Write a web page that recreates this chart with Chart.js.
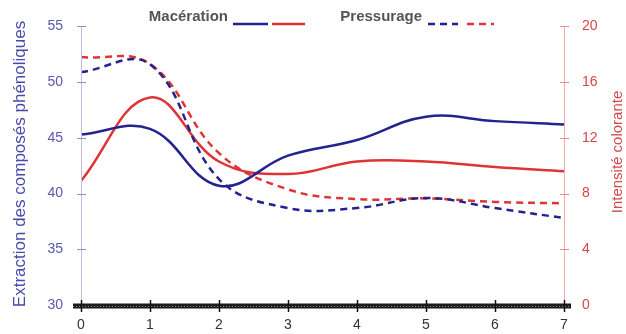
<!DOCTYPE html>
<html>
<head>
<meta charset="utf-8">
<script src="https://cdn.jsdelivr.net/npm/chart.js@4.4.1/dist/chart.umd.min.js"></script>
<style>
  html, body { margin: 0; padding: 0; background: #fff; }
  #wrap { width: 626px; height: 334px; }
</style>
</head>
<body>
<div id="wrap"><canvas id="chart" width="626" height="334"></canvas></div>
<script>
// --- DATA ---
const days = [0, 1, 2, 3, 4, 5, 6, 7];
const macExtraction = [45.3, 45.8, 40.7, 43.4, 44.8, 46.9, 46.5, 46.2];   // left axis
const pressExtraction = [50.9, 51.6, 41.3, 38.7, 38.7, 39.6, 38.7, 37.8]; // left axis
const macIntensity = [8.9, 14.9, 10.3, 9.4, 10.3, 10.3, 9.9, 9.6];        // right axis
const pressIntensity = [17.8, 17.3, 10.9, 8.3, 7.6, 7.65, 7.4, 7.3];      // right axis

const leftTicks = [30, 35, 40, 45, 50, 55];
const rightTicks = [0, 4, 8, 12, 16, 20];

const BLUE = '#23238f';
const RED = '#e03434';
const FONT = '"Liberation Sans", Arial, sans-serif';

const toPoints = vals => vals.map((v, i) => ({ x: days[i], y: v }));

// --- axis lines, crossing ticks, titles and legend ---
const decor = {
    id: 'decor',
    afterDraw(chart) {
        const { ctx, chartArea: a, scales } = chart;
        ctx.save();

        // left axis
        ctx.lineWidth = 1;
        ctx.strokeStyle = '#c2bce0';
        ctx.beginPath();
        ctx.moveTo(a.left + 0.5, a.top);
        ctx.lineTo(a.left + 0.5, a.bottom);
        ctx.stroke();
        ctx.strokeStyle = '#8c8cd0';
        leftTicks.forEach(v => {
            const y = Math.round(scales.y.getPixelForValue(v)) + 0.5;
            ctx.beginPath();
            ctx.moveTo(a.left - 4, y);
            ctx.lineTo(a.left + 5, y);
            ctx.stroke();
        });

        // right axis
        ctx.strokeStyle = '#f4a8a8';
        ctx.beginPath();
        ctx.moveTo(a.right + 0.5, a.top);
        ctx.lineTo(a.right + 0.5, a.bottom);
        ctx.stroke();
        ctx.strokeStyle = '#ee8a8a';
        rightTicks.forEach(v => {
            const y = Math.round(scales.y2.getPixelForValue(v)) + 0.5;
            ctx.beginPath();
            ctx.moveTo(a.right - 4, y);
            ctx.lineTo(a.right + 5, y);
            ctx.stroke();
        });

        // bottom axis (thick hatched black)
        const yb = a.bottom + 1;
        ctx.strokeStyle = '#1c1c1c';
        ctx.lineWidth = 5;
        ctx.beginPath();
        ctx.moveTo(a.left - 8, yb);
        ctx.lineTo(a.right + 7, yb);
        ctx.stroke();
        ctx.strokeStyle = '#8a8a8a';
        ctx.lineWidth = 1;
        ctx.setLineDash([1, 2]);
        ctx.beginPath();
        ctx.moveTo(a.left - 8, yb + 0.5);
        ctx.lineTo(a.right + 7, yb + 0.5);
        ctx.stroke();
        ctx.setLineDash([]);
        ctx.strokeStyle = '#111';
        ctx.lineWidth = 1.5;
        days.forEach(d => {
            const x = Math.round(scales.x.getPixelForValue(d)) + 0.5;
            ctx.beginPath();
            ctx.moveTo(x, yb - 6);
            ctx.lineTo(x, yb + 6);
            ctx.stroke();
        });

        // axis titles (both read bottom to top)
        ctx.textAlign = 'center';
        ctx.textBaseline = 'middle';
        ctx.save();
        ctx.translate(20, 164);
        ctx.rotate(-Math.PI / 2);
        ctx.fillStyle = '#4a48aa';
        ctx.font = '17px ' + FONT;
        ctx.fillText('Extraction des composés phénoliques', 0, 0);
        ctx.restore();

        ctx.save();
        ctx.translate(618, 152);
        ctx.rotate(-Math.PI / 2);
        ctx.fillStyle = '#d44848';
        ctx.font = '15px ' + FONT;
        ctx.fillText('Intensité colorante', 0, 0);
        ctx.restore();

        // legend
        ctx.fillStyle = '#555';
        ctx.font = 'bold 15px ' + FONT;
        ctx.textAlign = 'right';
        ctx.fillText('Macération', 228, 17);
        ctx.fillText('Pressurage', 422, 17);

        const sample = (x1, x2, color, dash) => {
            ctx.strokeStyle = color;
            ctx.lineWidth = 2.5;
            ctx.setLineDash(dash);
            ctx.beginPath();
            ctx.moveTo(x1, 24);
            ctx.lineTo(x2, 24);
            ctx.stroke();
            ctx.setLineDash([]);
        };
        sample(233, 268, BLUE, []);
        sample(272, 305, RED, []);
        sample(428, 458, BLUE, [7, 5]);
        sample(467, 494, RED, [7, 5]);

        ctx.restore();
    }
};

const lineStyle = { borderWidth: 2.5, pointRadius: 0, tension: 0.4, fill: false };

new Chart(document.getElementById('chart'), {
    type: 'line',
    data: {
        datasets: [
            { label: 'Pressurage - extraction', data: toPoints(pressExtraction), yAxisID: 'y',
              borderColor: BLUE, borderDash: [7, 5], ...lineStyle },
            { label: 'Pressurage - intensité', data: toPoints(pressIntensity), yAxisID: 'y2',
              borderColor: RED, borderDash: [7, 5], ...lineStyle },
            { label: 'Macération - extraction', data: toPoints(macExtraction), yAxisID: 'y',
              borderColor: BLUE, ...lineStyle },
            { label: 'Macération - intensité', data: toPoints(macIntensity), yAxisID: 'y2',
              borderColor: RED, ...lineStyle }
        ]
    },
    options: {
        responsive: false,
        animation: false,
        layout: { padding: { top: 24, left: 0, right: 0, bottom: 0 } },
        plugins: { legend: { display: false }, tooltip: { enabled: false } },
        scales: {
            x: {
                type: 'linear', min: 0, max: 7,
                grid: { display: false, drawTicks: false }, border: { display: false },
                ticks: { stepSize: 1, color: '#333', padding: 12, font: { size: 14, family: FONT } },
                afterFit(scale) { scale.height = 29; }
            },
            y: {
                position: 'left', min: 30, max: 55,
                grid: { display: false, drawTicks: false }, border: { display: false },
                ticks: { stepSize: 5, color: '#5a58b0', padding: 18, font: { size: 14, family: FONT } },
                afterFit(scale) { scale.width = 81; }
            },
            y2: {
                position: 'right', min: 0, max: 20,
                grid: { display: false, drawTicks: false }, border: { display: false },
                ticks: { stepSize: 4, color: '#d84444', padding: 18, font: { size: 14, family: FONT } },
                afterFit(scale) { scale.width = 62; }
            }
        }
    },
    plugins: [decor]
});
</script>
</body>
</html>
